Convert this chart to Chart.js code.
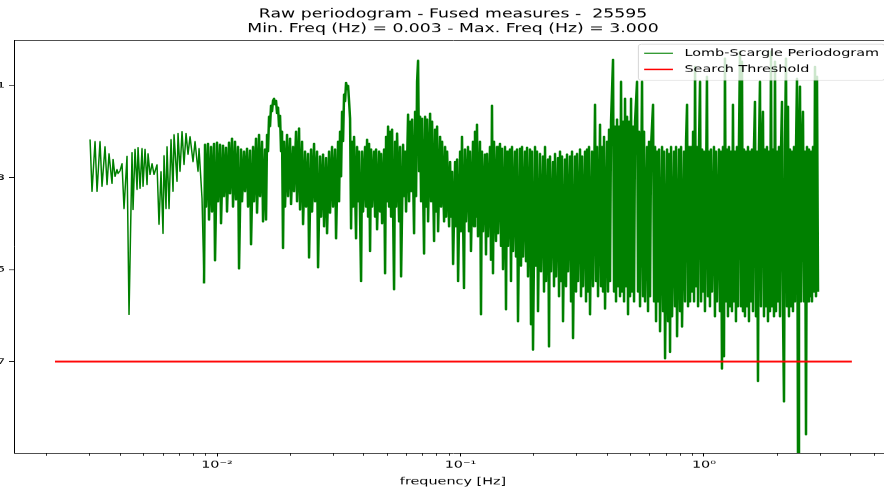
<!DOCTYPE html>
<html>
<head>
<meta charset="utf-8">
<title>Raw periodogram</title>
<script src="https://cdn.jsdelivr.net/npm/chart.js@4.4.1/dist/chart.umd.min.js"></script>
<style>
  html, body { margin: 0; padding: 0; background: #fff; overflow: hidden; }
  /* the figure is drawn tall and squeezed to the page height */
  #wrap { position: absolute; left: -31px; top: 0; width: 968px; height: 700px; transform: scaleY(0.7); transform-origin: 0 0; }
</style>
</head>
<body>
<div id="wrap"><canvas id="periodogram" width="968" height="700"></canvas></div>
<script>
// Lomb-Scargle periodogram, fused measures
const freqHz = [
  0.00301, 0.003066, 0.003155, 0.003215, 0.003307, 0.00337, 0.003467, 0.003534, 0.003601, 0.003705,
  0.003741, 0.003812, 0.003884, 0.003921, 0.003996, 0.004072, 0.00415, 0.004269, 0.004351, 0.004476,
  0.004519, 0.004605, 0.004694, 0.004738, 0.004829, 0.00492, 0.004967, 0.005062, 0.005159, 0.005208,
  0.005307, 0.00541, 0.005512, 0.00567, 0.005778, 0.005888, 0.006001, 0.006058, 0.006174, 0.006233,
  0.006352, 0.006473, 0.006597, 0.006659, 0.00685, 0.006916, 0.007047, 0.007182, 0.00732, 0.00746,
  0.007602, 0.007748, 0.00797, 0.008123, 0.008356, 0.008436, 0.008678, 0.008844,
  0.008927, 0.009012, 0.009183, 0.009271, 0.009449, 0.009539, 0.009721, 0.009813, 0.01, 0.010095,
  0.010288, 0.010386, 0.010584, 0.010684, 0.010888, 0.010992, 0.011202, 0.011309, 0.011524, 0.011634,
  0.011856, 0.011968, 0.012198, 0.012314, 0.012549, 0.012668, 0.012909, 0.013033, 0.013282, 0.013408,
  0.013665, 0.013795, 0.014058, 0.01419, 0.014461, 0.0146, 0.014879, 0.01502, 0.015307, 0.015453,
  0.015748, 0.015896,
  0.016049, 0.016201, 0.016356, 0.016511, 0.016669, 0.016826, 0.016986, 0.017147, 0.01731, 0.017474,
  0.017641, 0.017809, 0.017978, 0.018149, 0.018322, 0.018495, 0.01867,
  0.018848, 0.019028, 0.019392, 0.019576, 0.019951, 0.020141, 0.020525, 0.020719, 0.021114, 0.021316,
  0.021723, 0.02193, 0.022348, 0.022561, 0.022991, 0.023209, 0.023654, 0.023879, 0.024336, 0.024565,
  0.025034, 0.025273, 0.025756, 0.026001, 0.026498, 0.02675, 0.02726, 0.027518, 0.028043, 0.028311,
  0.028852, 0.029126, 0.029681, 0.029964, 0.030536, 0.030825, 0.031416, 0.031715,
  0.032016, 0.032321, 0.032626, 0.032937, 0.033249, 0.033566, 0.033884, 0.034208, 0.034533, 0.034861,
  0.035193, 0.035528,
  0.035864, 0.036205, 0.036548, 0.037246, 0.037602, 0.037959, 0.03832, 0.039053, 0.039422, 0.039798,
  0.040558, 0.040941, 0.041333, 0.041726, 0.042122, 0.042523, 0.042928, 0.043334, 0.04416, 0.044582,
  0.045004, 0.045434, 0.046302, 0.046743, 0.047188, 0.047633, 0.048542, 0.049005, 0.049469, 0.049942,
  0.050417, 0.050896,
  0.05138, 0.05187, 0.05236, 0.053358, 0.053868, 0.054378, 0.054897, 0.055946, 0.056478, 0.057016,
  0.058103, 0.058652, 0.059212, 0.059773, 0.060917, 0.061497, 0.062082, 0.062673, 0.063265, 0.064472,
  0.065087, 0.065704, 0.066331, 0.066961, 0.067598, 0.068241, 0.068892, 0.069541, 0.070868, 0.071545,
  0.072221, 0.072913, 0.073606, 0.075013, 0.075728, 0.076442, 0.0779, 0.078644, 0.079388, 0.080147,
  0.080908, 0.082455, 0.083241, 0.084026, 0.085629, 0.086447, 0.087264, 0.088099, 0.089782, 0.090637,
  0.0915, 0.092363, 0.093245, 0.095024, 0.095922, 0.09684, 0.09776, 0.09963,
  0.10047, 0.10143, 0.10337, 0.10435, 0.10534, 0.10735, 0.10837, 0.1094, 0.11044, 0.11255,
  0.11363, 0.1147, 0.11578, 0.11689, 0.118, 0.12024, 0.1214, 0.12255, 0.12372, 0.12608,
  0.12728, 0.12849, 0.1297, 0.13218, 0.13344, 0.13471, 0.136, 0.13729, 0.1399, 0.14124,
  0.14257, 0.14529, 0.14669, 0.14808, 0.14949, 0.15235, 0.15379, 0.15526, 0.15672, 0.15971,
  0.16124, 0.16277, 0.16433, 0.16747, 0.16905, 0.17066, 0.17228, 0.17556, 0.17724, 0.17893,
  0.18063, 0.18408, 0.18582, 0.18768, 0.18937, 0.19297, 0.19483, 0.19668, 0.19855, 0.20236,
  0.20427, 0.20621, 0.20816, 0.21213, 0.21416,
  0.21825, 0.22033, 0.22243, 0.22453, 0.22881, 0.23099, 0.23318, 0.23541, 0.23991, 0.24219,
  0.2445, 0.2468, 0.25152, 0.25392, 0.25632, 0.25877, 0.26123, 0.26371, 0.26876, 0.2713,
  0.27388, 0.27647, 0.28175, 0.28444, 0.28714, 0.28988, 0.29542, 0.29821, 0.30105, 0.30389,
  0.3097, 0.31266, 0.31564, 0.31864, 0.32473, 0.32779, 0.33092, 0.33405, 0.33724, 0.34043,
  0.34695, 0.35025, 0.35695, 0.36033, 0.36375, 0.3672, 0.37421, 0.37779, 0.38137, 0.385,
  0.38867, 0.39237, 0.39985, 0.40363, 0.40749, 0.41133, 0.41527, 0.4232, 0.42723, 0.4313,
  0.43538, 0.43953, 0.44368, 0.44792, 0.45216, 0.45648, 0.46082, 0.4652, 0.46963, 0.4741,
  0.47857, 0.48313, 0.4877, 0.49235, 0.49702, 0.50177, 0.50654, 0.51135, 0.51621, 0.52114,
  0.53107, 0.53609, 0.54121, 0.54634, 0.55679, 0.56209, 0.56743, 0.57284, 0.58376, 0.58928,
  0.5949, 0.60054, 0.60628, 0.61786, 0.62374, 0.62968, 0.63562, 0.64168, 0.64775, 0.65393,
  0.66013, 0.67276, 0.67916, 0.68562, 0.69216, 0.70535, 0.71201, 0.71881, 0.7256, 0.73256,
  0.73952, 0.75366, 0.76084, 0.76801, 0.77534, 0.79014, 0.79761, 0.80524, 0.81288, 0.82843,
  0.83632, 0.84421, 0.85227, 0.86031, 0.86853, 0.87674,
  0.8851, 0.8935, 0.902, 0.9106, 0.9193, 0.928, 0.9368, 0.9457, 0.9547, 0.9637,
  0.973, 0.9822, 0.9915, 1.0, 1.0095, 1.0288, 1.0386, 1.0484, 1.0584, 1.0684,
  1.0786, 1.0992, 1.1096, 1.1202, 1.1309, 1.1524, 1.1634, 1.1744, 1.1856, 1.1968,
  1.2083, 1.2198, 1.2314, 1.2431, 1.2549, 1.2668, 1.2789, 1.2909, 1.3033, 1.3156,
  1.3282, 1.3408, 1.3536, 1.3665, 1.3795, 1.3925, 1.4058, 1.419, 1.4325, 1.4461,
  1.46, 1.4739, 1.4879, 1.502, 1.5164, 1.5307, 1.5453, 1.5599, 1.5748, 1.5896,
  1.6049, 1.6201, 1.6356, 1.6511, 1.6669, 1.6826, 1.6986, 1.7147, 1.731, 1.7474,
  1.7641, 1.7809, 1.7978, 1.8149, 1.8322, 1.8495, 1.867, 1.8848, 1.9028, 1.9207,
  1.9392, 1.9576, 1.9762, 1.9951, 2.0141, 2.0331, 2.0525, 2.0719, 2.0916, 2.1114,
  2.1316, 2.1518, 2.1723, 2.193, 2.2139, 2.2348, 2.2561, 2.2774, 2.2991, 2.3209,
  2.3431, 2.3654, 2.3879, 2.4106, 2.4336, 2.4565, 2.48, 2.5034, 2.5273, 2.5512,
  2.5756, 2.6001, 2.6248, 2.6498, 2.675, 2.7003, 2.726, 2.7518, 2.778, 2.8043,
  2.8311, 2.858, 2.8852, 2.9126, 2.9404
];

const powerLS = [
  6.7e-3, 5.0e-4, 6.1e-3, 5.0e-4, 6.1e-3, 6.4e-4, 4.7e-3, 7.0e-4, 3.3e-3, 7.4e-4,
  2.5e-3, 1.05e-3, 1.5e-3, 1.22e-3, 1.4e-3, 2.0e-3, 2.1e-4, 2.9e-3, 1.05e-6, 3.5e-3,
  2.0e-4, 4.1e-3, 5.5e-4, 4.5e-3, 5.8e-4, 4.3e-3, 6.4e-4, 4.1e-3, 7.0e-4, 3.3e-3,
  1.16e-3, 2.0e-3, 1.16e-3, 1.9e-3, 9.6e-5, 1.35e-3, 6.1e-5, 3.0e-3, 2.1e-4, 4.7e-3,
  2.1e-4, 6.7e-3, 5.0e-4, 8.6e-3, 8.2e-4, 9.1e-3, 1.35e-3, 1.0e-2, 1.9e-3, 9.1e-3,
  3.2e-3, 7.8e-3, 2.2e-3, 6.1e-3, 1.35e-3, 4.3e-3, 3.5e-4, 5.0e-6,
  5.2e-3, 2.3e-4, 5.5e-3, 1.2e-4, 4.7e-3, 1.8e-4, 5.5e-3, 1.57e-5, 5.8e-3, 3.0e-4,
  5.2e-3, 1.0e-4, 5.0e-3, 3.9e-4, 4.5e-3, 1.8e-4, 5.8e-3, 4.5e-4, 7.1e-3, 2.3e-4,
  6.1e-3, 3.3e-4, 4.7e-3, 1.05e-5, 4.1e-3, 3.0e-4, 3.7e-3, 5.0e-4, 4.3e-3, 2.3e-4,
  3.9e-3, 3.5e-5, 4.7e-3, 3.0e-4, 7.1e-3, 1.7e-4, 8.6e-3, 3.9e-4, 6.1e-3, 1.1e-4,
  4.1e-3, 1.2e-4,
  8.6e-3, 3.7e-3, 2.12e-2, 1.29e-2, 3.68e-2, 2.72e-2, 4.7e-2, 5.2e-2, 3.86e-2, 4.7e-2,
  2.47e-2, 3.34e-2, 1.29e-2, 2.23e-2, 3.7e-3, 1.0e-2, 2.9e-5,
  6.1e-3, 2.3e-4, 8.6e-3, 3.9e-4, 7.1e-3, 2.6e-4, 4.7e-3, 5.0e-4, 1.0e-2, 3.0e-4,
  1.17e-2, 2.0e-4, 6.1e-3, 9.6e-5, 3.7e-3, 2.3e-4, 3.3e-3, 1.8e-5, 4.1e-3, 1.8e-4,
  5.5e-3, 3.0e-4, 3.7e-3, 1.1e-5, 2.9e-3, 1.4e-4, 3.2e-3, 8.6e-5, 2.7e-3, 6.1e-5,
  3.7e-3, 1.7e-4, 4.7e-3, 2.3e-4, 4.1e-3, 4.7e-5, 6.1e-3, 3.0e-4,
  1.0e-2, 1.05e-3, 2.72e-2, 6.1e-3, 6.4e-2, 4.5e-2, 1.16e-1, 8.2e-2, 1.0e-1, 4.5e-2,
  1.92e-2, 7.8e-5,
  6.1e-3, 2.3e-4, 7.8e-3, 4.7e-5, 4.7e-3, 3.0e-4, 3.7e-3, 5.5e-6, 3.7e-3, 1.8e-4,
  4.7e-3, 2.3e-4, 6.7e-3, 1.4e-4, 5.5e-3, 2.5e-5, 4.1e-3, 2.3e-4, 3.7e-3, 1.4e-4,
  4.1e-3, 7.4e-5, 3.7e-3, 1.8e-4, 3.3e-3, 1.0e-4, 4.1e-3, 8.2e-6, 7.8e-3, 3.0e-4,
  1.29e-2, 2.3e-4,
  1.0e-2, 1.4e-4, 1.11e-2, 3.7e-6, 6.1e-3, 2.3e-4, 9.1e-3, 1.1e-4, 4.7e-3, 7.0e-6,
  5.2e-3, 3.9e-4, 3.7e-3, 1.8e-4, 2.34e-2, 3.0e-4, 1.65e-2, 5.0e-4, 1.83e-2, 6.1e-5,
  2.72e-2, 3.9e-4, 1.22e-1, 3.49e-1, 1.35e-3, 2.12e-2, 3.0e-4, 1.92e-2, 2.2e-5, 2.12e-2,
  2.3e-4, 1.83e-2, 1.1e-4, 2.47e-2, 3.0e-4, 1.65e-2, 4.1e-5, 1.11e-2, 1.8e-4, 1.29e-2,
  6.7e-5, 7.8e-3, 2.3e-4, 6.1e-3, 1.1e-4, 4.7e-3, 1.4e-4, 3.7e-3, 8.6e-5, 2.2e-3,
  1.4e-4, 1.35e-3, 1.3e-5, 2.2e-3, 8.6e-5, 2.5e-3, 5.5e-6, 3.7e-3,
  6.7e-5, 7.8e-3, 3.9e-6, 4.1e-3, 1.1e-4, 4.7e-3, 6.7e-5, 3.7e-3, 2.5e-5, 6.1e-3,
  8.6e-5, 1.0e-2, 1.4e-4, 1.42e-2, 5.2e-5, 6.1e-3, 1.05e-6, 3.7e-3, 6.7e-5, 3.2e-3,
  2.1e-5, 3.3e-3, 5.2e-5, 4.7e-3, 1.6e-5, 3.67e-2, 8.2e-6, 6.1e-3, 4.1e-5, 4.7e-3,
  6.1e-5, 5.5e-3, 3.2e-5, 4.3e-3, 1.0e-5, 4.7e-3, 1.35e-6, 3.7e-3, 3.2e-5, 4.1e-3,
  5.5e-6, 4.7e-3, 2.5e-5, 3.7e-3, 1.9e-5, 4.1e-3, 7.4e-7, 4.3e-3, 1.2e-5, 4.7e-3,
  1.9e-5, 3.7e-3, 1.5e-5, 4.5e-3, 7.0e-6, 4.1e-3, 6.4e-7, 3.7e-3, 1.8e-7, 4.7e-3,
  1.2e-5, 3.7e-3, 1.22e-6, 3.3e-3, 9.0e-6,
  2.9e-3, 3.3e-6, 4.7e-3, 5.5e-6, 2.5e-3, 2.1e-7, 2.9e-3, 9.0e-6, 2.2e-3, 4.3e-6,
  3.3e-3, 7.0e-6, 2.7e-3, 2.6e-6, 3.7e-3, 5.5e-6, 2.9e-3, 7.4e-7, 2.5e-3, 4.3e-6,
  3.2e-3, 9.0e-6, 2.9e-3, 2.0e-6, 3.7e-3, 3.2e-7, 2.9e-3, 3.3e-6, 3.3e-3, 5.5e-6,
  4.1e-3, 2.6e-6, 2.9e-3, 4.3e-6, 3.7e-3, 2.0e-6, 4.1e-3, 3.3e-6, 4.7e-3, 1.05e-6,
  3.7e-3, 4.3e-6, 3.86e-2, 5.5e-6, 4.7e-3, 2.6e-6, 1.42e-2, 4.3e-6, 4.7e-3, 3.3e-6,
  7.8e-3, 1.4e-6, 6.1e-3, 3.3e-6, 1.11e-2, 5.5e-6, 1.65e-2, 3.67e-1, 3.3e-6, 1.29e-2,
  2.0e-6, 1.83e-2, 4.3e-6, 1.29e-2, 2.6e-6, 1.22e-1, 3.3e-6, 1.65e-2, 2.0e-6, 5.2e-2,
  4.3e-6, 2.12e-2, 1.05e-6, 1.65e-2, 2.6e-6, 5.2e-2, 3.3e-6, 1.29e-2, 2.0e-6, 1.65e-2,
  1.22e-1, 3.3e-6, 1.0e-2, 1.57e-6, 1.22e-1, 2.6e-6, 1.0e-2, 2.0e-6, 4.7e-3, 1.22e-6,
  6.1e-3, 2.6e-6, 4.7e-3, 3.86e-2, 2.0e-6, 4.7e-3, 7.4e-7, 3.7e-3, 2.0e-6, 4.1e-3,
  4.5e-7, 4.7e-3, 1.22e-6, 3.7e-3, 1.16e-7, 4.1e-3, 7.4e-7, 3.3e-3, 1.6e-7, 4.7e-3,
  9.5e-7, 3.7e-3, 1.57e-6, 4.7e-3, 3.5e-7, 4.1e-3, 1.22e-6, 4.7e-3, 5.7e-7, 3.7e-3,
  2.0e-6, 6.1e-3, 3.86e-2, 1.57e-6, 4.7e-3, 2.0e-6,
  4.7e-3, 3.3e-6, 1.0e-2, 2.0e-6, 2.59e-1, 4.3e-6, 4.7e-3, 1.57e-6, 6.1e-3, 1.22e-1,
  2.0e-6, 4.1e-3, 3.3e-6, 3.7e-3, 1.22e-6, 1.57e-1, 2.6e-6, 3.7e-3, 1.57e-6, 4.1e-3,
  3.3e-6, 4.7e-3, 9.5e-7, 3.7e-3, 2.0e-6, 4.1e-3, 1.22e-6, 3.7e-3, 7.0e-8, 4.7e-3,
  1.29e-7, 3.86e-1, 2.0e-6, 4.1e-3, 9.5e-7, 4.7e-3, 1.57e-6, 3.7e-3, 1.22e-6, 3.86e-2,
  2.0e-6, 3.7e-3, 7.4e-7, 4.7e-3, 1.57e-6, 6.1e-3, 5.5e-1, 1.57e-6, 3.33e-1, 1.22e-6,
  4.1e-3, 9.5e-7, 3.7e-3, 1.57e-6, 4.7e-3, 7.4e-7, 3.7e-3, 2.0e-6, 4.1e-3, 1.22e-6,
  4.7e-3, 4.5e-2, 9.5e-7, 3.7e-3, 3.7e-8, 4.7e-3, 1.22e-1, 1.57e-6, 3.7e-3, 2.72e-2,
  9.5e-7, 4.1e-3, 1.57e-6, 4.7e-3, 7.4e-7, 3.7e-3, 1.22e-6, 5.5e-1, 1.57e-6, 4.1e-3,
  9.5e-7, 3.33e-1, 1.22e-6, 3.7e-3, 2.0e-6, 4.7e-3, 9.5e-7, 3.7e-3, 4.5e-2, 1.22e-6,
  1.35e-8, 4.7e-3, 3.86e-1, 1.57e-6, 3.5e-2, 9.5e-7, 4.1e-3, 1.57e-6, 3.7e-3, 1.22e-6,
  4.7e-3, 2.0e-6, 4.1e-3, 1.42e-1, 8.0e-10, 4.7e-3, 9.5e-2, 2.0e-6, 3.7e-3, 2.72e-2,
  2.0e-6, 3.7e-3, 2.6e-9, 4.7e-3, 2.0e-6, 4.1e-3, 2.6e-6, 3.7e-3, 2.0e-6, 4.7e-3,
  3.3e-6, 2.59e-1, 2.6e-6, 1.57e-1, 3.3e-6
];

// detection threshold across the searched band
const thresholdFreq = [0.00216, 4.05];
const thresholdPower = [1e-7, 1e-7];

const xTicks = [0.002, 0.003, 0.004, 0.005, 0.006, 0.007, 0.008, 0.009, 0.01,
  0.02, 0.03, 0.04, 0.05, 0.06, 0.07, 0.08, 0.09, 0.1,
  0.2, 0.3, 0.4, 0.5, 0.6, 0.7, 0.8, 0.9, 1, 2, 3, 4, 5];
const xMajor = [0.01, 0.1, 1];
const xMajorLabels = ['10⁻²', '10⁻¹', '10⁰'];
const yTicks = [1e-7, 1e-5, 1e-3, 1e-1];
const yTickLabels = ['10⁻⁷', '10⁻⁵', '10⁻³', '10⁻¹'];
const titleLines = ['Raw periodogram - Fused measures -  25595', 'Min. Freq (Hz) = 0.003 - Max. Freq (Hz) = 3.000'];

// above this frequency the periodogram packs into a solid band
const denseFrom = 0.0088;

Chart.defaults.font.family = 'DejaVu Sans';
Chart.defaults.color = '#000';

// framed legend in the upper right corner, drawn over the curves
const legendBox = {
  id: 'legendBox',
  afterDatasetsDraw(chart) {
    const {ctx, chartArea} = chart;
    const fs = 14.4;
    const items = chart.data.datasets;
    ctx.save();
    ctx.font = fs + 'px "DejaVu Sans"';
    const textW = Math.max(...items.map(d => ctx.measureText(d.label).width));
    const pad = 0.4 * fs, handle = 2 * fs, gap = 0.8 * fs;
    const w = pad + handle + gap + textW + pad;
    const left = chartArea.right - 0.5 * fs - w;
    const top = chartArea.top + 6;
    const rowH = 23;
    ctx.beginPath();
    ctx.roundRect(left, top, w, 51.5, 3);
    ctx.fillStyle = 'rgba(255,255,255,0.8)';
    ctx.fill();
    ctx.strokeStyle = 'rgba(204,204,204,0.8)';
    ctx.lineWidth = 1;
    ctx.stroke();
    items.forEach((d, i) => {
      const y = top + 13 + i * rowH;
      ctx.beginPath();
      ctx.moveTo(left + pad, y);
      ctx.lineTo(left + pad + handle, y);
      ctx.strokeStyle = d.borderColor;
      ctx.lineWidth = i === 0 ? 1.4 : 2.2;
      ctx.stroke();
      ctx.fillStyle = '#000';
      ctx.textBaseline = 'middle';
      ctx.textAlign = 'left';
      ctx.fillText(d.label, left + pad + handle + gap, y);
    });
    ctx.restore();
  }
};

new Chart(document.getElementById('periodogram'), {
  type: 'line',
  data: {
    datasets: [{
      label: 'Lomb-Scargle Periodogram',
      data: freqHz.map((f, i) => ({x: f, y: powerLS[i]})),
      borderColor: '#008000',
      borderWidth: 1.5,
      borderJoinStyle: 'round',
      segment: {
        borderWidth: c => c.p0.parsed.x >= denseFrom ? 2.5 : 1.5
      },
      pointRadius: 0,
      xAxisID: 'x',
      yAxisID: 'y',
      order: 1
    }, {
      label: 'Search Threshold',
      data: thresholdFreq.map((f, i) => ({x: f, y: thresholdPower[i]})),
      borderColor: '#ff0000',
      borderWidth: 2.4,
      pointRadius: 0,
      xAxisID: 'x',
      yAxisID: 'y',
      order: 0
    }]
  },
  options: {
    responsive: false,
    animation: false,
    devicePixelRatio: 1,
    parsing: false,
    events: [],
    layout: { padding: 0 },
    plugins: {
      legend: { display: false },
      tooltip: { enabled: false },
      title: {
        display: true,
        text: titleLines,
        color: '#000',
        font: { size: 17.3, weight: 'normal', lineHeight: 1.2 },
        padding: { top: 10.6, bottom: 5 }
      }
    },
    scales: {
      x: {
        type: 'logarithmic',
        position: 'bottom',
        min: 0.001466,
        max: 5.92,
        afterBuildTicks: s => { s.ticks = xTicks.map(v => ({value: v, major: xMajor.includes(v)})); },
        afterFit: s => { s.height = 52.9; },
        grid: {
          drawOnChartArea: false,
          tickLength: 5,
          color: '#000',
          tickWidth: c => (c.tick && c.tick.major) ? 1 : 0.8,
          tickBorderDash: c => (c.tick && c.tick.major) ? [] : [3, 10]
        },
        border: { display: true, color: '#000', width: 1 },
        ticks: {
          autoSkip: false,
          maxRotation: 0,
          padding: 4,
          font: { size: 14.4 },
          callback: v => { const i = xMajor.indexOf(v); return i >= 0 ? xMajorLabels[i] : ''; }
        },
        title: { display: true, text: 'frequency [Hz]', font: { size: 14.4 }, padding: { top: 0, bottom: 2.8 } }
      },
      y: {
        type: 'logarithmic',
        position: 'left',
        min: 1.03e-9,
        max: 0.975,
        afterBuildTicks: s => { s.ticks = yTicks.map(v => ({value: v, major: true})); },
        afterFit: s => { s.width = 45; },
        grid: { drawOnChartArea: false, tickLength: 5, color: '#000' },
        border: { display: true, color: '#000', width: 1 },
        ticks: { padding: 4, labelOffset: 5, font: { size: 20 }, callback: v => yTickLabels[yTicks.indexOf(v)] }
      },
      top: {
        type: 'linear',
        position: 'top',
        afterFit: s => { s.height = 0; },
        grid: { display: false },
        ticks: { display: false },
        border: { display: true, color: '#000', width: 1 }
      },
      right: {
        type: 'linear',
        position: 'right',
        afterFit: s => { s.width = 45; },
        grid: { display: false },
        ticks: { display: false },
        border: { display: true, color: '#000', width: 1 }
      }
    }
  },
  plugins: [legendBox]
});
</script>
</body>
</html>
